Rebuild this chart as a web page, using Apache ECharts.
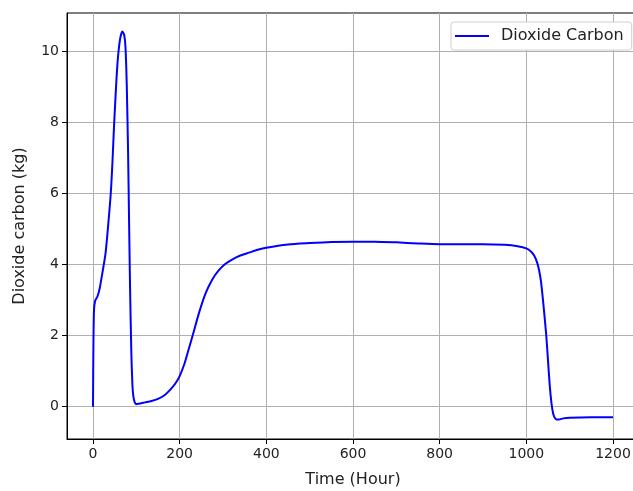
<!DOCTYPE html>
<html>
<head>
<meta charset="utf-8">
<script src="https://cdn.jsdelivr.net/npm/echarts@6/dist/echarts.min.js"></script>
<style>
html,body{margin:0;padding:0;background:#fff;}
#chart{width:633px;height:491px;}
</style>
</head>
<body>
<div id="chart"></div>
<script>
// Data
const timeHours = [0, 1, 2.3, 5, 10, 15, 21.5, 29, 35, 41, 45, 48.5, 56, 62, 67.8, 72, 75, 78, 81, 83.2, 85.5, 88.5, 91, 93, 96, 99, 105, 120, 135, 150, 165, 180, 190, 200, 210, 220, 230, 245, 260, 275, 290, 305, 320, 340, 360, 380, 400, 450, 500, 550, 600, 650, 700, 750, 800, 850, 900, 950, 980, 1000, 1010, 1018, 1025, 1030, 1034, 1040, 1046, 1050, 1054, 1058, 1062, 1066, 1070, 1075, 1085, 1100, 1150, 1200];
const co2Kg = [0, 1.8, 2.72, 2.98, 3.09, 3.3, 3.75, 4.32, 5.1, 6.0, 6.9, 7.88, 9.57, 10.3, 10.55, 10.45, 10.1, 9.0, 7.13, 5.25, 3.38, 1.5, 0.6, 0.3, 0.13, 0.07, 0.08, 0.12, 0.16, 0.22, 0.32, 0.5, 0.65, 0.86, 1.17, 1.58, 2.0, 2.65, 3.19, 3.57, 3.83, 4.01, 4.13, 4.25, 4.33, 4.41, 4.47, 4.56, 4.6, 4.63, 4.64, 4.64, 4.62, 4.59, 4.57, 4.57, 4.57, 4.55, 4.51, 4.45, 4.37, 4.25, 4.05, 3.8, 3.5, 2.8, 2.0, 1.3, 0.6, 0.1, -0.2, -0.32, -0.36, -0.36, -0.33, -0.31, -0.30, -0.30];
const xTicks = [0, 200, 400, 600, 800, 1000, 1200];
const yTicks = [0, 2, 4, 6, 8, 10];
const seriesName = 'Dioxide Carbon';
const xName = 'Time (Hour)';
const yName = 'Dioxide carbon (kg)';

const points = timeHours.map((t, i) => [t, co2Kg[i]]);
const font = 'DejaVu Sans';
const chart = echarts.init(document.getElementById('chart'), null, {renderer: 'canvas'});
chart.setOption({
  animation: false,
  backgroundColor: '#fff',
  grid: {left: 67, top: 13, height: 426, width: 572, show: true, borderColor: '#000', borderWidth: 1, containLabel: false, outerBoundsMode: 'none'},
  legend: {
    show: true,
    left: 451, top: 22,
    padding: [6, 8, 6, 4],
    backgroundColor: '#fff',
    borderColor: '#d0d0d0', borderWidth: 1, borderRadius: 3,
    itemWidth: 34, itemHeight: 14,
    textStyle: {fontFamily: font, fontSize: 16, color: '#222', padding: [0, 0, 0, 7]},
    data: [{name: seriesName, icon: 'path://M0,0 L34,0 L34,2 L0,2 Z', itemStyle: {color: '#0000ff'}}]
  },
  xAxis: {
    type: 'value', min: -60, max: 1260,
    name: xName, nameLocation: 'middle', nameGap: 33,
    nameTextStyle: {fontFamily: font, fontSize: 16, color: '#222'},
    axisLine: {show: true, onZero: false, lineStyle: {color: '#000', width: 1}},
    axisTick: {show: true, length: 5, lineStyle: {color: '#000'}, customValues: xTicks},
    axisLabel: {fontFamily: font, fontSize: 14, color: '#222', margin: 8, customValues: xTicks, formatter: v => String(v)},
    splitLine: {show: true, lineStyle: {color: '#b0b0b0', width: 1}}
  },
  yAxis: {
    type: 'value', min: -0.91, max: 11.07,
    name: yName, nameLocation: 'middle', nameGap: 39,
    nameTextStyle: {fontFamily: font, fontSize: 16, color: '#222'},
    axisLine: {show: true, onZero: false, lineStyle: {color: '#000', width: 1}},
    axisTick: {show: true, length: 5, lineStyle: {color: '#000'}, customValues: yTicks},
    axisLabel: {fontFamily: font, fontSize: 14, color: '#222', margin: 8, customValues: yTicks, formatter: v => String(v)},
    splitLine: {show: true, lineStyle: {color: '#b0b0b0', width: 1}}
  },
  series: [{
    name: seriesName, type: 'line', data: points,
    showSymbol: false, symbol: 'none',
    smooth: 0.25,
    lineStyle: {color: '#0000ff', width: 2},
    itemStyle: {color: '#0000ff'}
  }]
});
</script>
</body>
</html>
